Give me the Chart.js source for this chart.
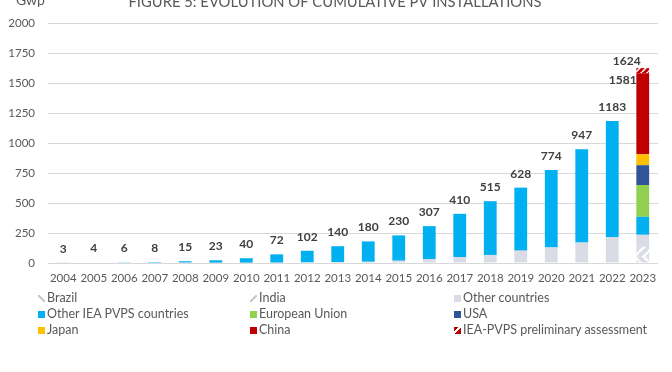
<!DOCTYPE html>
<html><head><meta charset="utf-8">
<script src="https://cdn.jsdelivr.net/npm/chart.js@4.4.1/dist/chart.umd.min.js"></script>
<style>
html,body{margin:0;padding:0;background:#fff;width:672px;height:372px;overflow:hidden}
#wrap{position:relative;width:672px;height:372px}
#c{position:absolute;left:0;top:0}
.leg{position:absolute;font-family:Lato,sans-serif;font-size:12.5px;color:#595959;white-space:nowrap;line-height:16px;height:16px}
.leg i{display:inline-block;width:7px;height:7px;margin-right:2px;vertical-align:0px}
</style></head>
<body><div id="wrap"><canvas id="c" width="672" height="372"></canvas><div id="legend"></div></div>
<script>
const years = ['2004','2005','2006','2007','2008','2009','2010','2011','2012','2013','2014','2015','2016','2017','2018','2019','2020','2021','2022','2023'];
const totals = [3,4,6,8,15,23,40,72,102,140,180,230,307,410,515,628,774,947,1183,1581];
const preliminaryTotal = 1624;
const brazil = [null,null,null,null,null,null,null,null,null,null,null,null,null,null,null,null,null,null,null,55];
const india = [null,null,null,null,null,null,null,null,null,null,null,null,null,null,null,null,null,null,null,80];
const otherCountries = [0,0,0,0,0,1,2,4,6,8,10,19,33,50,67,103,130,170,214,100];
const otherIEA = [3,4,6,8,15,22,38,68,96,132,170,211,274,360,448,525,644,777,969,150];
const eu = [null,null,null,null,null,null,null,null,null,null,null,null,null,null,null,null,null,null,null,265];
const usa = [null,null,null,null,null,null,null,null,null,null,null,null,null,null,null,null,null,null,null,165];
const japan = [null,null,null,null,null,null,null,null,null,null,null,null,null,null,null,null,null,null,null,91];
const china = [null,null,null,null,null,null,null,null,null,null,null,null,null,null,null,null,null,null,null,675];
const preliminary = [null,null,null,null,null,null,null,null,null,null,null,null,null,null,null,null,null,null,null,43];
const yTicks = [0,250,500,750,1000,1250,1500,1750,2000];

function hatch(bg, fg, dir, size, lw){
  const c = document.createElement('canvas'); c.width = size; c.height = size;
  const x = c.getContext('2d');
  x.fillStyle = bg; x.fillRect(0,0,size,size);
  x.strokeStyle = fg; x.lineWidth = lw;
  x.beginPath();
  if (dir === '/') {
    for (let k=-1;k<=1;k++){ x.moveTo(k*size, size); x.lineTo(k*size+size, 0); }
  } else {
    for (let k=-1;k<=1;k++){ x.moveTo(k*size, 0); x.lineTo(k*size+size, size); }
  }
  x.stroke();
  return x.createPattern(c,'repeat');
}
const ctx0 = document.getElementById('c').getContext('2d');
const brazilFill = hatch('#d9dce4','#ffffff','\\',9,2.5);
const indiaFill = hatch('#d9dce4','#ffffff','/',9,2.5);
const prelimFill = hatch('#c00000','#ffffff','/',6,1.5);

const labelPlugin = {
  id:'labels',
  afterDatasetsDraw(chart){
    const {ctx, scales:{x,y}} = chart;
    ctx.save();
    ctx.font = 'bold 12px Lato, sans-serif';
    ctx.fillStyle = '#404040';
    ctx.textAlign = 'center'; ctx.textBaseline = 'middle';
    const last = totals.length - 1;
    totals.forEach((v,i)=>{
      const px = x.getPixelForValue(i);
      if (i === last) {
        ctx.fillText(String(v), px - 20, y.getPixelForValue(v) + 7);
        ctx.fillText(String(preliminaryTotal), px - 16, y.getPixelForValue(preliminaryTotal) - 7);
      } else {
        ctx.fillText(String(v), px, y.getPixelForValue(v) - 14);
      }
    });
    ctx.restore();
  }
};
const titlePlugin = {
  id:'titles',
  afterDraw(chart){
    const ctx = chart.ctx;
    ctx.save();
    ctx.fillStyle = '#595959';
    ctx.textBaseline = 'alphabetic';
    ctx.font = '14.8px Lato, sans-serif';
    ctx.textAlign = 'center';
    ctx.fillText('FIGURE 5: EVOLUTION OF CUMULATIVE PV INSTALLATIONS', 335, 7);
    ctx.font = '14px Lato, sans-serif';
    ctx.textAlign = 'left';
    ctx.fillText('Gwp', 16, 5);
    ctx.restore();
  }
};

const ds = (label, data, color) => ({label, data, backgroundColor: color, borderWidth:0, barPercentage:0.42, categoryPercentage:1, stack:'s'});

new Chart(ctx0, {
  type:'bar',
  data:{
    labels: years,
    datasets:[
      ds('Brazil', brazil, brazilFill),
      ds('India', india, indiaFill),
      ds('Other countries', otherCountries, '#d9dce4'),
      ds('Other IEA PVPS countries', otherIEA, '#00b0f0'),
      ds('European Union', eu, '#92d050'),
      ds('USA', usa, '#2f5597'),
      ds('Japan', japan, '#ffc000'),
      ds('China', china, '#c00000'),
      ds('IEA-PVPS preliminary assessment', preliminary, prelimFill)
    ]
  },
  options:{
    responsive:false,
    animation:false,
    layout:{padding:{left:0,right:14,top:23,bottom:0}},
    plugins:{legend:{display:false}, tooltip:{enabled:false}},
    scales:{
      x:{stacked:true, grid:{display:false, drawTicks:false}, border:{display:false},
         ticks:{color:'#595959', font:{family:'Lato', size:11.5}, padding:8, maxRotation:0, autoSkip:false},
         afterFit(s){ s.height = 109; }},
      y:{stacked:true, min:0, max:2000,
         afterBuildTicks(s){ s.ticks = yTicks.map(v=>({value:v})); },
         grid:{color:'#d9d9d9', lineWidth:1, drawTicks:false}, border:{display:false},
         ticks:{color:'#595959', font:{family:'Lato', size:11.5}, padding:13, callback:(v)=>String(v)},
         afterFit(s){ s.width = 48; }}
    }
  },
  plugins:[labelPlugin, titlePlugin]
});

const legendItems = [
  ['Brazil','linear-gradient(45deg, transparent 38%, #c4c8d0 38%, #c4c8d0 62%, transparent 62%)'],
  ['India','linear-gradient(135deg, transparent 38%, #c4c8d0 38%, #c4c8d0 62%, transparent 62%)'],
  ['Other countries','#d9dce4'],
  ['Other IEA PVPS countries','#00b0f0'],
  ['European Union','#92d050'],
  ['USA','#2f5597'],
  ['Japan','#ffc000'],
  ['China','#c00000'],
  ['IEA-PVPS preliminary assessment','linear-gradient(135deg, #c00000 35%, #fff 35%, #fff 55%, #c00000 55%)']
];
const colX = [38,250,454];
const rowY = [298,314,330];
const lg = document.getElementById('legend');
legendItems.forEach((it,k)=>{
  const d = document.createElement('div');
  d.className = 'leg';
  d.style.left = colX[k%3] + 'px';
  d.style.top = (rowY[Math.floor(k/3)] - 8) + 'px';
  const m = document.createElement('i');
  m.style.background = it[1];
  d.appendChild(m);
  d.appendChild(document.createTextNode(it[0]));
  lg.appendChild(d);
});
</script>
</body></html>
